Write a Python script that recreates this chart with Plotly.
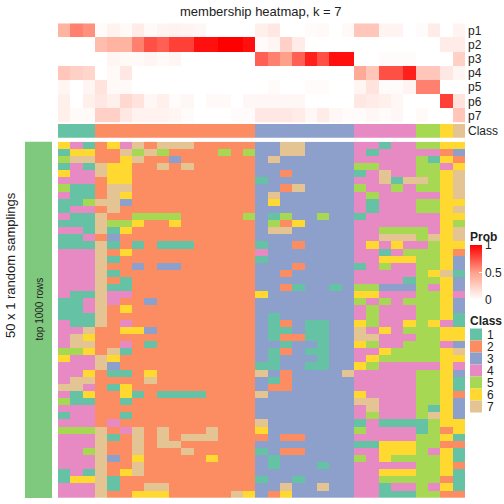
import plotly.graph_objects as go

# ---------------- data ----------------
samples = list(range(1, 34))
classes = [1, 1, 1] + [2] * 13 + [3] * 8 + [4] * 5 + [5, 5] + [6] + [7]

p1 = [0.40, 0.60, 0.55, 0.02, 0.07, 0.03, 0.10, 0.03, 0.06, 0.07, 0.06, 0.04, 0.00, 0.00, 0.00, 0.00, 0.08,
      0.12, 0.00, 0.00, 0.02, 0.03, 0.00, 0.03, 0.30, 0.30, 0.06, 0.06, 0.00, 0.02, 0.10, 0.00, 0.06]
p2 = [0.00, 0.00, 0.00, 0.35, 0.40, 0.40, 0.60, 0.75, 0.70, 0.80, 0.80, 0.95, 0.95, 1.00, 1.00, 0.95, 0.02,
      0.05, 0.25, 0.10, 0.00, 0.00, 0.00, 0.00, 0.00, 0.00, 0.00, 0.00, 0.00, 0.00, 0.00, 0.10, 0.10]
p3 = [0.00, 0.00, 0.00, 0.00, 0.05, 0.03, 0.03, 0.05, 0.03, 0.05, 0.00, 0.00, 0.00, 0.00, 0.00, 0.00, 0.70,
      0.60, 0.50, 0.70, 0.90, 0.75, 0.95, 0.95, 0.00, 0.00, 0.02, 0.02, 0.02, 0.00, 0.00, 0.00, 0.25]
p4 = [0.30, 0.25, 0.22, 0.00, 0.03, 0.12, 0.00, 0.00, 0.00, 0.00, 0.00, 0.00, 0.00, 0.00, 0.00, 0.00, 0.00,
      0.00, 0.00, 0.00, 0.00, 0.00, 0.00, 0.00, 0.45, 0.30, 0.75, 0.75, 0.90, 0.30, 0.30, 0.12, 0.05]
p5 = [0.05, 0.00, 0.05, 0.15, 0.03, 0.03, 0.00, 0.00, 0.00, 0.00, 0.00, 0.00, 0.00, 0.00, 0.00, 0.00, 0.00,
      0.02, 0.00, 0.00, 0.02, 0.02, 0.00, 0.00, 0.05, 0.15, 0.02, 0.02, 0.06, 0.60, 0.60, 0.00, 0.00]
p6 = [0.08, 0.00, 0.08, 0.12, 0.08, 0.20, 0.15, 0.04, 0.08, 0.02, 0.04, 0.00, 0.03, 0.03, 0.00, 0.04, 0.04,
      0.04, 0.04, 0.04, 0.00, 0.00, 0.00, 0.00, 0.12, 0.10, 0.08, 0.04, 0.00, 0.00, 0.00, 0.80, 0.15]
p7 = [0.08, 0.03, 0.03, 0.25, 0.25, 0.12, 0.07, 0.07, 0.07, 0.05, 0.02, 0.00, 0.00, 0.00, 0.02, 0.02, 0.12,
      0.12, 0.12, 0.10, 0.04, 0.10, 0.04, 0.02, 0.02, 0.04, 0.02, 0.04, 0.00, 0.03, 0.00, 0.00, 0.30]
prob_labels = ["p1", "p2", "p3", "p4", "p5", "p6", "p7"]

# class of each sample in each of the 50 random samplings (one string per sampling)
samplings = [
    "64126472777" "22222337733" "33441445566",
    "16622757522" "22525337733" "33414444423",
    "57722672232" "22222373333" "33444445162",
    "14176622727" "22222333333" "33554445546",
    "64476622222" "22222332333" "33147445567",
    "44426622222" "22222133333" "33447177567",
    "51127722222" "22222332733" "33544545567",
    "41127622222" "22222373333" "33454444467",
    "11577322222" "22222363333" "33414445566",
    "14427222222" "22222333333" "33414445567",
    "41172255552" "22225315335" "33144444466",
    "11175562262" "22222352633" "33444444465",
    "44171622222" "22222377333" "33445555467",
    "11423222222" "22222333333" "33447775767",
    "11171212111" "22222133233" "33464644566",
    "44472622222" "22222433333" "33441455562",
    "44471222222" "22222133333" "33446665563",
    "44472232332" "22222333233" "33145445563",
    "44471222222" "22222332333" "33444445671",
    "44472122222" "22222333333" "33444415563",
    "44471122222" "22222332133" "13553335463",
    "41174422222" "22222633333" "33664445564",
    "11474223222" "22222333333" "33545455563",
    "11472622222" "22222333333" "33454445563",
    "11172222222" "22222313333" "33454445561",
    "41172422222" "22222312311" "33654465641",
    "44722663222" "22222311311" "33746455566",
    "47622222222" "22222312211" "33774445566",
    "47722421222" "22222331331" "33654455543",
    "55627122222" "22222312311" "33446555567",
    "64476222222" "22222313331" "33465555566",
    "44473222222" "22222113311" "33654444464",
    "44621126222" "22222732333" "37444445563",
    "47722227222" "22222312333" "33444445561",
    "77421622222" "22222322333" "33444445561",
    "41622612111" "12222733333" "33644445562",
    "51122122222" "22222333333" "33774445563",
    "44422222222" "22222333333" "33474445163",
    "14422122222" "22222333333" "33454445763",
    "44424222222" "22222733333" "33141111566",
    "55572472722" "27222633333" "33544441526",
    "44471272727" "77222232233" "33444445561",
    "44472272772" "22222333333" "33116665522",
    "44572272227" "22222132233" "33446665461",
    "44473262222" "26222313333" "33546555561",
    "44472272222" "22222313331" "33444445562",
    "14172672222" "22222333333" "33446665561",
    "16671222222" "22222133133" "33445555521",
    "44471227722" "22222337337" "33441445461",
    "44472266622" "22276326333" "33441115522",
]
class_names = ["1", "2", "3", "4", "5", "6", "7"]
class_colors = ["#66C2A5", "#FC8D62", "#8DA0CB", "#E78AC3", "#A6D854", "#FFD92F", "#E5C494"]

# ---------------- helpers ----------------
W = H = 504
def px(x):
    return x / W
def py(y):
    return (H - y) / H

n = len(class_colors)
class_scale = []
for i, c in enumerate(class_colors):
    class_scale.append([i / n, c])
    class_scale.append([(i + 1) / n, c])

main_z = [[int(ch) for ch in row] for row in samplings]
prob_z = [p1, p2, p3, p4, p5, p6, p7]
FONT = "Liberation Sans, Arial, sans-serif"

fig = go.Figure()

fig.add_trace(go.Heatmap(
    z=main_z, x=samples, y=list(range(len(samplings))),
    colorscale=class_scale, zmin=0.5, zmax=7.5, showscale=False,
    xaxis="x", yaxis="y", hoverinfo="skip"))

fig.add_trace(go.Heatmap(
    z=prob_z, x=samples, y=list(range(7)),
    colorscale=[[0, "#FFFFFF"], [0.5, "#FFA08A"], [1, "#FF0000"]], zmin=0, zmax=1,
    xaxis="x", yaxis="y2", hoverinfo="skip",
    colorbar=dict(x=px(470), xanchor="left", y=py(272.5), yanchor="middle",
                  lenmode="pixels", len=55, thickness=12, xpad=0, ypad=0,
                  outlinewidth=0, tickvals=[0, 0.5, 1], ticktext=["0", "0.5", "1"],
                  ticks="inside", ticklen=3, tickcolor="white",
                  tickfont=dict(family=FONT, size=12, color="#222"))))

fig.add_trace(go.Heatmap(
    z=[classes], x=samples, y=[0],
    colorscale=class_scale, zmin=0.5, zmax=7.5, showscale=False,
    xaxis="x", yaxis="y3", hoverinfo="skip"))

axis_common = dict(showgrid=False, zeroline=False, showline=False, ticks="", automargin=False)
fig.update_layout(
    width=W, height=H, margin=dict(l=0, r=0, t=0, b=0, autoexpand=False),
    plot_bgcolor="white", paper_bgcolor="white",
    font=dict(family=FONT, size=12, color="#222"),
    xaxis=dict(domain=[px(58), px(465)], range=[0.5, 33.5], showticklabels=False, **axis_common),
    yaxis=dict(domain=[py(498), py(141.7)], range=[49.5, -0.5], showticklabels=False, **axis_common),
    yaxis2=dict(domain=[py(122.7), py(23.3)], range=[6.5, -0.5], anchor="x", side="right",
                tickvals=list(range(7)), ticktext=prob_labels, ticklabelstandoff=2,
                tickfont=dict(size=12, family=FONT), **axis_common),
    yaxis3=dict(domain=[py(137.7), py(124)], range=[0.5, -0.5], anchor="x", side="right",
                tickvals=[0], ticktext=["Class"], ticklabelstandoff=2,
                tickfont=dict(size=12, family=FONT), **axis_common),
)

def note(text, x, y, size=12, angle=0, xanchor="center"):
    return dict(text=text, x=px(x), y=py(y), xref="paper", yref="paper",
                xanchor=xanchor, yanchor="middle", showarrow=False,
                textangle=angle, font=dict(size=size))

shapes = [dict(type="rect", xref="paper", yref="paper", x0=px(25), x1=px(52),
               y0=py(498), y1=py(141.7), fillcolor="#7FC97F", line=dict(width=0))]
annotations = [
    note("membership heatmap, k = 7", 261, 11, size=13),
    note("50 x 1 random samplings", 10, 265, size=13, angle=-90),
    note("top 1000 rows", 38.5, 309, size=10, angle=-90),
    note("<b>Prob</b>", 468, 237, xanchor="left"),
    note("<b>Class</b>", 468, 321, xanchor="left"),
]
for i, (name, col) in enumerate(zip(class_names, class_colors)):
    yc = 334.5 + 12 * i
    shapes.append(dict(type="rect", xref="paper", yref="paper", x0=px(470), x1=px(482),
                       y0=py(yc + 6), y1=py(yc - 6), fillcolor=col, line=dict(width=0)))
    annotations.append(note(name, 485, yc, xanchor="left"))
fig.update_layout(shapes=shapes, annotations=annotations)

fig.write_html("out.html", config={"displayModeBar": False},
               post_script="document.body.style.margin='0';")
